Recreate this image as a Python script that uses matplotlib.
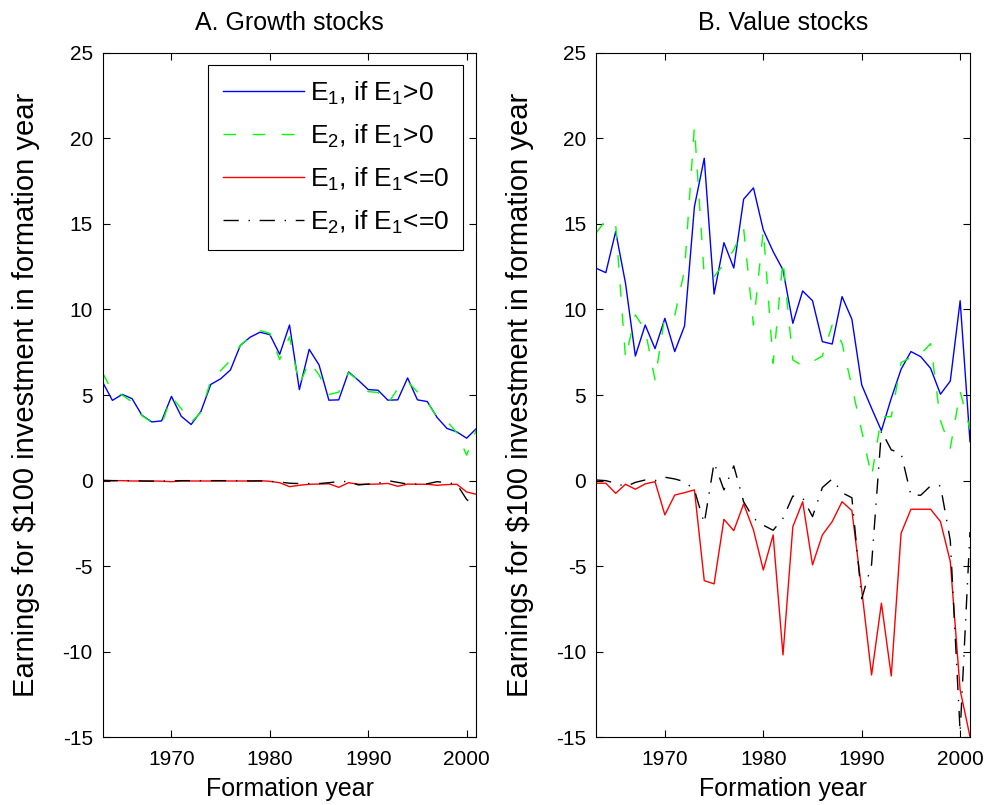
import numpy as np
import matplotlib
matplotlib.use('Agg')
import matplotlib.pyplot as plt

plt.rcParams['font.family'] = ['Liberation Sans', 'DejaVu Sans']
plt.rcParams['axes.unicode_minus'] = False

years = np.arange(1963, 2002)

# Panel A: growth stocks
growth_e1_pos = [5.76, 4.69, 5.04, 4.79, 3.82, 3.43, 3.49, 4.92, 3.76, 3.28,
                 4.05, 5.62, 5.95, 6.47, 7.90, 8.38, 8.67, 8.53, 7.38, 9.09,
                 5.32, 7.67, 6.76, 4.70, 4.72, 6.35, 5.86, 5.32, 5.28, 4.70,
                 4.72, 6.00, 4.72, 4.62, 3.69, 3.05, 2.85, 2.48, 3.05]
growth_e2_pos = [6.30, 5.20, 5.00, 4.60, 3.80, 3.40, 3.30, 4.90, 4.20, 3.40,
                 4.00, 5.85, 6.43, 7.03, 7.90, 8.40, 8.77, 8.60, 7.07, 8.40,
                 5.60, 6.95, 6.18, 5.03, 5.17, 6.30, 5.86, 5.20, 5.15, 4.50,
                 5.38, 5.80, 5.18, 4.60, 3.70, 3.48, 2.80, 1.49, 3.00]
growth_e1_neg = [0.0, 0.0, 0.0, -0.02, -0.02, -0.02, -0.03, -0.06, -0.02, -0.02,
                 -0.02, -0.02, -0.02, -0.02, -0.02, -0.02, 0.0, -0.04, -0.12, -0.35,
                 -0.27, -0.21, -0.20, -0.18, -0.39, -0.12, -0.21, -0.21, -0.20, -0.16,
                 -0.33, -0.20, -0.21, -0.21, -0.27, -0.23, -0.21, -0.66, -0.80]
growth_e2_neg = [0.02, 0.0, 0.0, 0.0, -0.02, -0.03, -0.03, -0.02, 0.0, 0.0,
                 0.0, 0.0, 0.0, 0.0, 0.0, -0.02, -0.02, -0.04, -0.08, -0.15,
                 -0.17, -0.17, -0.17, -0.12, -0.05, -0.05, -0.25, -0.20, -0.15, 0.0,
                 -0.10, -0.20, -0.20, -0.18, -0.06, -0.12, -0.20, -1.10, -1.50]

# Panel B: value stocks
value_e1_pos = [12.41, 12.15, 14.55, 11.53, 7.28, 9.09, 7.71, 9.48, 7.54, 9.04,
                16.00, 18.83, 10.90, 13.90, 12.42, 16.44, 17.10, 14.64, 13.38, 12.31,
                9.19, 11.08, 10.51, 8.12, 7.98, 10.75, 9.43, 5.59, 4.23, 2.92,
                4.81, 6.51, 7.54, 7.24, 6.56, 5.05, 5.82, 10.51, 2.28]
value_e2_pos = [14.45, 15.23, 14.97, 7.15, 9.68, 8.80, 5.88, 9.64, 9.64, 12.30,
                20.68, 11.92, 11.92, 12.66, 13.48, 14.74, 9.09, 14.64, 6.86, 12.89,
                7.05, 6.70, 6.95, 7.28, 9.09, 8.03, 5.49, 2.90, 0.23, 3.74,
                3.74, 6.90, 7.20, 7.40, 8.00, 3.50, 1.90, 5.20, 3.00]
value_e1_neg = [-0.15, -0.15, -0.74, -0.21, -0.50, -0.19, -0.06, -2.00, -0.84, -0.70,
                -0.54, -5.84, -6.03, -2.26, -2.92, -1.36, -2.88, -5.22, -3.17, -10.18,
                -2.69, -1.23, -4.92, -3.17, -2.39, -1.23, -1.75, -6.38, -11.35, -7.16,
                -11.41, -3.07, -1.67, -1.67, -1.67, -2.39, -4.73, -12.23, -14.95]
value_e2_neg = [0.04, 0.0, -0.15, -0.35, -0.10, 0.04, 0.0, 0.20, 0.10, -0.06,
                -0.54, -2.49, 1.05, -0.54, 0.86, -1.23, -2.20, -2.60, -2.90, -2.20,
                -0.90, -1.00, -2.10, -0.40, 0.10, -0.70, -1.00, -6.90, -4.90, 2.90,
                1.80, 1.60, -0.85, -0.85, -0.30, -0.30, -3.50, -14.70, -3.00]

labels = [r'$\mathregular{E_1}$, if $\mathregular{E_1}$>0',
          r'$\mathregular{E_2}$, if $\mathregular{E_1}$>0',
          r'$\mathregular{E_1}$, if $\mathregular{E_1}$<=0',
          r'$\mathregular{E_2}$, if $\mathregular{E_1}$<=0']

green = '#00ff00'
dash = (0, (9, 12))
dashdot = (0, (11, 7, 1, 7))


def draw_panel(ax, e1p, e2p, e1n, e2n, title):
    ax.plot(years, e1p, color='#0000ff', lw=1.0, label=labels[0])
    ax.plot(years, e2p, color=green, lw=1.0, linestyle=dash, label=labels[1])
    ax.plot(years, e1n, color='#ff0000', lw=1.0, label=labels[2])
    ax.plot(years, e2n, color='black', lw=1.0, linestyle=dashdot, label=labels[3])
    ax.set_xlim(1963, 2001)
    ax.set_ylim(-15, 25)
    ax.set_xticks([1970, 1980, 1990, 2000])
    ax.set_yticks(np.arange(-15, 26, 5))
    ax.tick_params(direction='in', top=True, right=True, length=5, width=0.8,
                   labelsize=15)
    ax.tick_params(axis='x', pad=9)
    ax.tick_params(axis='y', pad=7)
    for s in ax.spines.values():
        s.set_linewidth(0.8)
    ax.set_title(title, fontsize=18, pad=16)
    ax.set_xlabel('Formation year', fontsize=18, labelpad=6)
    ax.set_ylabel('Earnings for $100 investment in formation year', fontsize=21, labelpad=16)


fig = plt.figure(figsize=(9.91, 8.05), dpi=100)
ax1 = fig.add_axes([0.1035, 0.0839, 0.3773, 0.8507])
ax2 = fig.add_axes([0.6014, 0.0839, 0.3774, 0.8507])

draw_panel(ax1, growth_e1_pos, growth_e2_pos, growth_e1_neg, growth_e2_neg, 'A. Growth stocks')
draw_panel(ax2, value_e1_pos, value_e2_pos, value_e1_neg, value_e2_neg, 'B. Value stocks')

leg = ax1.legend(loc='upper right', bbox_to_anchor=(0.965, 0.982), borderaxespad=0,
                 fontsize=19, fancybox=False, framealpha=1, edgecolor='black',
                 handlelength=3.1, handletextpad=0.2, labelspacing=0.6,
                 borderpad=0.55)
leg.get_frame().set_linewidth(0.8)

fig.savefig('out.png', dpi=100)
